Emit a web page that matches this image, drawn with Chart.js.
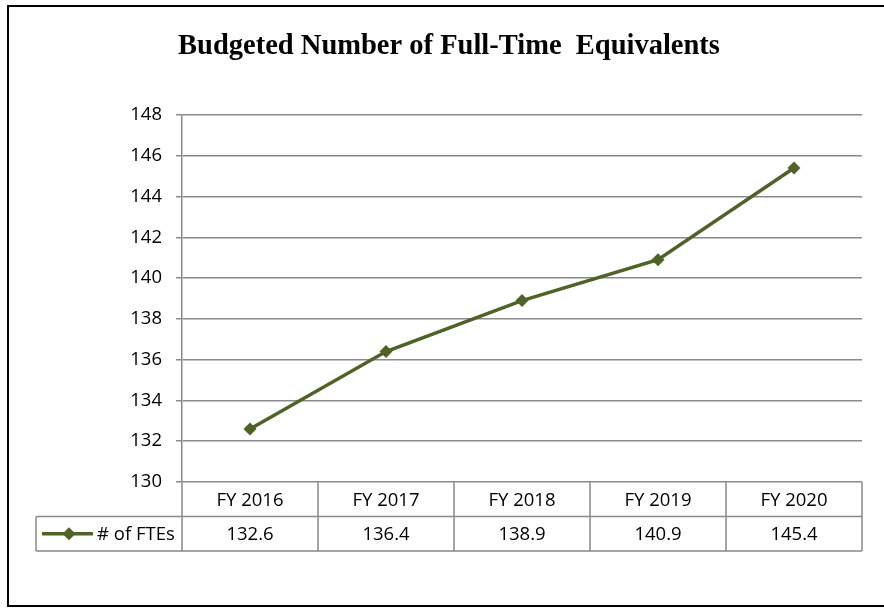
<!DOCTYPE html>
<html>
<head>
<meta charset="utf-8">
<title>Budgeted Number of Full-Time Equivalents</title>
<script src="https://cdn.jsdelivr.net/npm/chart.js@4/dist/chart.umd.min.js"></script>
<style>
  html, body { margin: 0; padding: 0; background: #fff; }
  canvas { display: block; }
</style>
</head>
<body>
<canvas id="fteChart" width="884" height="608"></canvas>
<script>
// --- data ---
const chartTitle = 'Budgeted Number of Full-Time  Equivalents';
const years = ['FY 2016', 'FY 2017', 'FY 2018', 'FY 2019', 'FY 2020'];
const fteValues = [132.6, 136.4, 138.9, 140.9, 145.4];
const seriesName = '# of FTEs';
const yTicks = [130, 132, 134, 136, 138, 140, 142, 144, 146, 148];

const lineColor = '#4F6228';
const gridColor = '#8a8a8a';
const textFont = "'Open Sans', 'Noto Sans', sans-serif";

// title, outer frame and data table under the plot
const tablePlugin = {
    id: 'excelTable',
    beforeDraw(chart) {
        const ctx = chart.ctx;
        ctx.save();
        ctx.fillStyle = '#fff';
        ctx.fillRect(0, 0, chart.width, chart.height);
        ctx.restore();
    },
    afterDraw(chart) {
        const ctx = chart.ctx;
        const area = chart.chartArea;
        const xs = chart.scales.x;
        const rowH = 34.5;
        const row1Bottom = area.bottom + rowH;
        const row2Bottom = row1Bottom + rowH;
        const keyLeft = 36;
        const step = (area.right - area.left) / years.length;

        ctx.save();
        // outer frame
        ctx.strokeStyle = '#000';
        ctx.lineWidth = 2;
        ctx.strokeRect(8, 6, chart.width + 10, 600);

        // title
        ctx.fillStyle = '#000';
        ctx.font = "bold 28.5px 'Liberation Serif', 'DejaVu Serif', serif";
        ctx.textAlign = 'center';
        ctx.textBaseline = 'alphabetic';
        ctx.fillText(chartTitle, 449, 54);

        // table lines
        ctx.strokeStyle = gridColor;
        ctx.lineWidth = 1.5;
        ctx.beginPath();
        ctx.moveTo(keyLeft, row1Bottom); ctx.lineTo(area.right, row1Bottom);
        ctx.moveTo(keyLeft, row2Bottom); ctx.lineTo(area.right, row2Bottom);
        ctx.moveTo(keyLeft, row1Bottom); ctx.lineTo(keyLeft, row2Bottom);
        for (let i = 0; i <= years.length; i++) {
            const x = area.left + i * step;
            ctx.moveTo(x, area.bottom); ctx.lineTo(x, row2Bottom);
        }
        ctx.stroke();

        // table text
        ctx.font = '18.5px ' + textFont;
        ctx.fillStyle = '#000';
        ctx.textBaseline = 'middle';
        ctx.textAlign = 'center';
        years.forEach((label, i) => {
            const cx = xs.getPixelForValue(i);
            ctx.fillText(label, cx, (area.bottom + row1Bottom) / 2 + 1);
            ctx.fillText(fteValues[i].toFixed(1), cx, (row1Bottom + row2Bottom) / 2 + 1);
        });

        // legend key
        const ky = (row1Bottom + row2Bottom) / 2;
        ctx.strokeStyle = lineColor;
        ctx.lineWidth = 3.5;
        ctx.beginPath();
        ctx.moveTo(42, ky); ctx.lineTo(93, ky);
        ctx.stroke();
        ctx.fillStyle = lineColor;
        ctx.beginPath();
        ctx.moveTo(69, ky - 6.5); ctx.lineTo(75.5, ky); ctx.lineTo(69, ky + 6.5); ctx.lineTo(62.5, ky);
        ctx.closePath();
        ctx.fill();
        ctx.fillStyle = '#000';
        ctx.textAlign = 'left';
        ctx.fillText(seriesName, 97, ky + 1);
        ctx.restore();
    }
};

new Chart(document.getElementById('fteChart'), {
    type: 'line',
    data: {
        labels: years,
        datasets: [{
            label: seriesName,
            data: fteValues,
            borderColor: lineColor,
            backgroundColor: lineColor,
            borderWidth: 3.5,
            pointStyle: 'rectRot',
            pointRadius: 6.5,
            pointBorderWidth: 0,
            tension: 0
        }]
    },
    options: {
        responsive: false,
        animation: false,
        layout: { padding: { left: 0, top: 115, right: 22, bottom: 126 } },
        plugins: {
            legend: { display: false },
            title: { display: false },
            tooltip: { enabled: false }
        },
        scales: {
            x: {
                type: 'category',
                offset: true,
                display: false
            },
            y: {
                min: 130,
                max: 148,
                afterFit: s => { s.width = 182; },
                afterBuildTicks: s => { s.ticks = yTicks.map(v => ({ value: v })); },
                border: { display: true, color: gridColor, width: 1.5 },
                grid: { color: gridColor, lineWidth: 1.5, tickLength: 6, drawTicks: true },
                ticks: {
                    padding: 14,
                    color: '#000',
                    font: { family: textFont, size: 18.5 }
                }
            }
        }
    },
    plugins: [tablePlugin]
});
</script>
</body>
</html>
